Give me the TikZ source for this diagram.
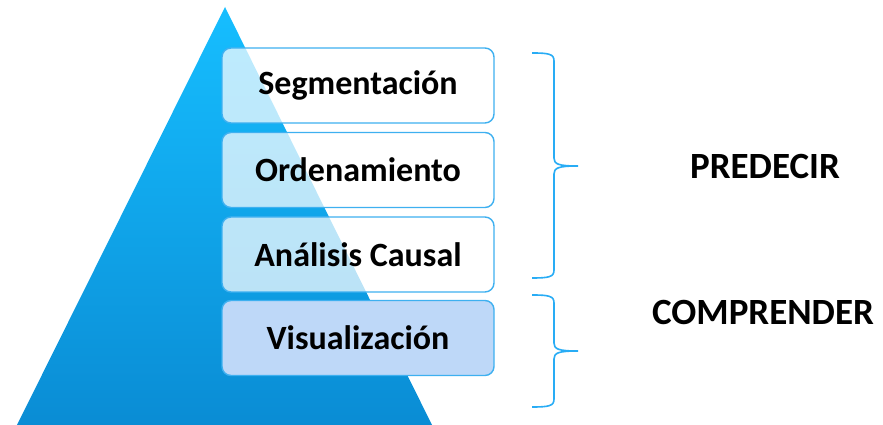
\documentclass[tikz,border=0pt]{standalone}
\usepackage{fontspec}
\setmainfont{Carlito}
\definecolor{tritop}{RGB}{22,190,255}
\definecolor{tribot}{RGB}{10,140,212}
\definecolor{boxline}{RGB}{62,176,240}
\definecolor{visfill}{RGB}{190,216,248}
\definecolor{bracecol}{RGB}{40,172,245}
\tikzset{
  layerbox/.style={draw=boxline, line width=1.4pt, rounded corners=9pt,
    minimum width=272pt, minimum height=75pt, inner sep=0pt,
    font=\bfseries\fontsize{34}{38}\selectfont, text=black},
  ghost/.style={fill=white, fill opacity=0.72, text opacity=1},
  bracepath/.style={draw=bracecol, line width=1.6pt},
  sidelabel/.style={font=\bfseries\fontsize{37}{40}\selectfont, text=black}
}
\begin{document}
\begin{tikzpicture}[x=1pt,y=1pt]
\useasboundingbox (0,0) rectangle (883,425);
\begin{scope}
\clip (0,0) rectangle (883,425);
\shade[top color=tritop, bottom color=tribot] (225,418) -- (433,-2) -- (16,-2) -- cycle;
\end{scope}
\node[layerbox, ghost] (seg) at (358,339.5) {Segmentación};
\node[layerbox, ghost] (ord) at (358,255) {Ordenamiento};
\node[layerbox, ghost] (ana) at (358,170.5) {Análisis Causal};
\node[layerbox, fill=visfill] (vis) at (358,87) {Visualización};
% braces
\coordinate (pt) at (532,372);
\coordinate (pm) at (578,259);
\coordinate (pb) at (532,147);
\draw[bracepath] (pt) .. controls (549,372) and (554,371) .. (554,364)
  -- (554,267) .. controls (554,261) and (558,259) .. (pm)
  .. controls (558,259) and (554,257) .. (554,251)
  -- (554,155) .. controls (554,148) and (549,147) .. (pb);
\coordinate (ct) at (532,130);
\coordinate (cm) at (578,74);
\coordinate (cb) at (532,18);
\draw[bracepath] (ct) .. controls (549,130) and (554,129) .. (554,122)
  -- (554,82) .. controls (554,76) and (558,74) .. (cm)
  .. controls (558,74) and (554,72) .. (554,66)
  -- (554,26) .. controls (554,19) and (549,18) .. (cb);
\node[sidelabel] (pred) at (765,258) {PREDECIR};
\node[sidelabel] (comp) at (763,113) {COMPRENDER};
\end{tikzpicture}
\end{document}
